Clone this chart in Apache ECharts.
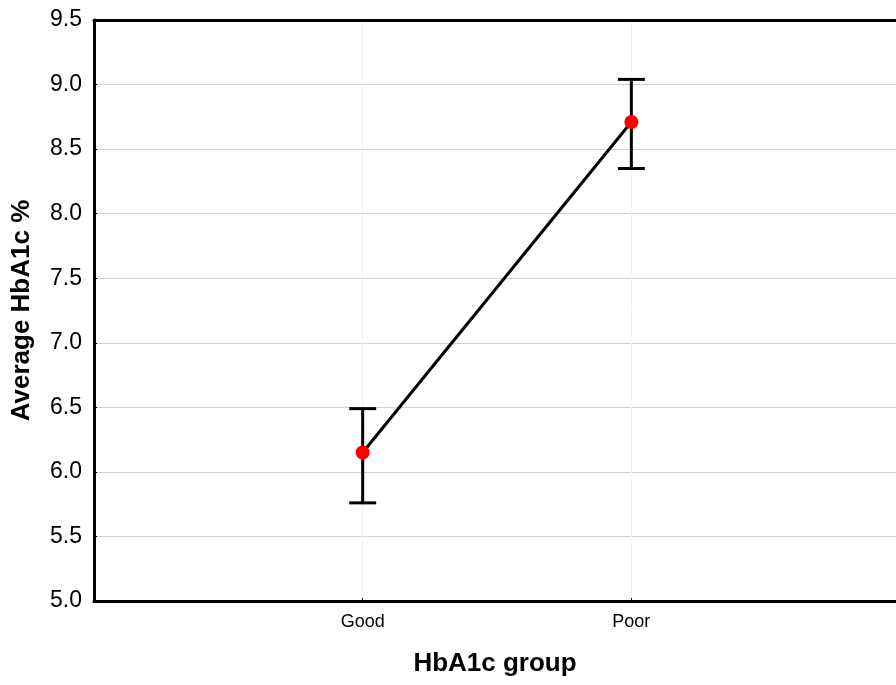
<!DOCTYPE html>
<html>
<head>
<meta charset="utf-8">
<style>
  html, body { margin: 0; padding: 0; background: #ffffff; }
  #chart { width: 896px; height: 685px; }
</style>
<script src="https://cdn.jsdelivr.net/npm/echarts@6/dist/echarts.min.js"></script>
</head>
<body>
<div id="chart"></div>
<script>
// HbA1c groups and their mean values with error-bar bounds
const groups = ['Good', 'Poor'];
const means = [6.15, 8.71];
const upper = [6.49, 9.04];
const lower = [5.76, 8.35];
const yTicks = ['5.0', '5.5', '6.0', '6.5', '7.0', '7.5', '8.0', '8.5', '9.0', '9.5'];

// groups sit at positions 1, 2; the x range runs a little short of 3 at the right edge
const pos = groups.map((g, i) => i + 1);
const meanData = pos.map((p, i) => [p, means[i]]);
const barData = pos.map((p, i) => [p, lower[i], upper[i]]);

const chart = echarts.init(document.getElementById('chart'), null, { renderer: 'canvas' });

const xLabel = v => (v >= 1 && v <= groups.length && Number.isInteger(v) ? groups[v - 1] : '');

chart.setOption({
  backgroundColor: '#ffffff',
  animation: false,
  grid: { left: 94, right: 0, top: 20, bottom: 84 },
  xAxis: [
    {
      type: 'value',
      min: 0, max: 2.985, interval: 1,
      name: 'HbA1c group',
      nameLocation: 'middle',
      nameGap: 50,
      nameTextStyle: { fontFamily: 'Liberation Sans, Arial', fontWeight: 'bold', fontSize: 26, color: '#000' },
      axisLine: { show: true, lineStyle: { color: '#000', width: 3 } },
      axisTick: { show: true, inside: true, length: 3, lineStyle: { color: '#000' } },
      axisLabel: {
        margin: 12, showMaxLabel: false,
        fontFamily: 'Liberation Sans, Arial', fontSize: 18, color: '#000',
        formatter: xLabel
      },
      splitLine: { show: true, lineStyle: { color: '#f2f2f2', width: 1 } }
    },
    {
      // top frame line
      type: 'value', position: 'top',
      min: 0, max: 2.985, interval: 1,
      axisLine: { show: true, lineStyle: { color: '#000', width: 3 } },
      axisTick: { show: false },
      axisLabel: { show: false },
      splitLine: { show: false }
    }
  ],
  yAxis: {
    type: 'value',
    min: 5, max: 9.5, interval: 0.5,
    name: 'Average HbA1c %',
    nameLocation: 'middle',
    nameGap: 59,
    nameTextStyle: { fontFamily: 'Liberation Sans, Arial', fontWeight: 'bold', fontSize: 26, color: '#000' },
    axisLine: { show: true, lineStyle: { color: '#000', width: 3 } },
    axisTick: { show: true, inside: true, length: 3, lineStyle: { color: '#000' } },
    axisLabel: {
      margin: 12,
      fontFamily: 'Liberation Sans, Arial', fontSize: 23, color: '#000',
      formatter: v => yTicks[Math.round((v - 5) / 0.5)]
    },
    splitLine: { show: true, lineStyle: { color: '#d0d0d0', width: 1 } }
  },
  series: [
    {
      type: 'custom',
      data: barData,
      z: 3,
      renderItem: function (params, api) {
        const x = api.value(0);
        const lo = api.coord([x, api.value(1)]);
        const hi = api.coord([x, api.value(2)]);
        const half = 13.5;
        const style = { stroke: '#000', lineWidth: 3 };
        return {
          type: 'group',
          children: [
            { type: 'line', shape: { x1: lo[0], y1: lo[1], x2: hi[0], y2: hi[1] }, style },
            { type: 'line', shape: { x1: hi[0] - half, y1: hi[1], x2: hi[0] + half, y2: hi[1] }, style },
            { type: 'line', shape: { x1: lo[0] - half, y1: lo[1], x2: lo[0] + half, y2: lo[1] }, style }
          ]
        };
      }
    },
    {
      type: 'line',
      data: meanData,
      z: 4,
      symbol: 'circle',
      symbolSize: 14,
      lineStyle: { color: '#000', width: 3 },
      itemStyle: { color: '#ff0000', borderWidth: 0 }
    }
  ]
});
</script>
</body>
</html>
